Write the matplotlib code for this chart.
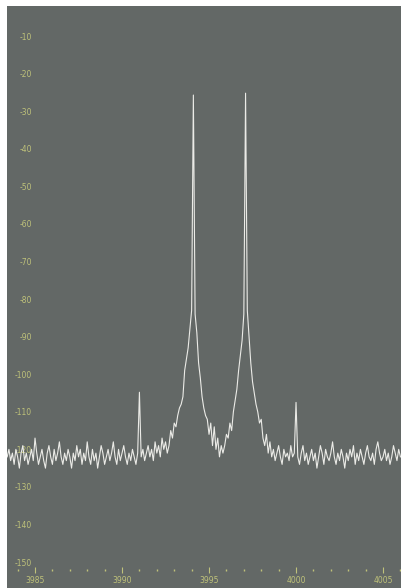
"""
Spectrum analyser trace: two tones near 3994 and 3997 with small spurs.
"""

import numpy as np
import matplotlib.pyplot as plt
from matplotlib.ticker import MultipleLocator

# trace start and step along the frequency axis
f_start = 3983.4
f_step = 0.1

# trace levels (dB), one step at a time
noise_left = [-122, -120, -123, -121, -124, -120, -122, -125, -121, -119,
              -123, -121, -124, -122, -120, -123, -117, -121, -124, -122,
              -120, -123, -125, -121, -119, -122, -124, -120, -123, -121,
              -118, -122, -124, -121, -123, -120, -122, -125, -121, -123,
              -119, -122, -120, -124, -121, -123, -118, -122, -124, -120,
              -123, -121, -125, -122, -119, -121, -124, -122, -120, -123,
              -121, -118, -122, -124, -120, -123, -121, -119, -122, -124,
              -121, -123, -120, -122, -124, -121]
spur_1 = [-104.8]
noise_mid = [-122, -120, -123, -121, -119, -122, -120, -123, -118, -121,
             -119, -122, -117, -120, -118, -121]
tone_1 = [-119, -115, -117, -113, -114, -111, -109, -108, -106, -99,
          -96, -93, -88, -83, -25.7, -84, -89, -97, -101, -106,
          -109, -111, -112, -116, -113, -119]
valley = [-114, -120, -117, -122, -119, -121]
tone_2 = [-119, -116, -117, -113, -115, -110, -107, -104, -99, -95,
          -91, -84, -25.2, -83, -90, -97, -102, -105, -108, -110,
          -113, -112, -117, -119, -116]
noise_after = [-121, -118, -122, -120, -123, -121, -119, -122, -124, -120,
               -122, -121, -123, -119, -122, -121]
spur_2 = [-107.5]
noise_right = [-122, -124, -121, -119, -123, -121, -124, -122, -120, -123,
               -121, -125, -122, -119, -121, -124, -120, -122, -123, -121,
               -118, -122, -124, -121, -123, -120, -122, -125, -121, -123,
               -120, -122, -119, -124, -121, -123, -120, -122, -124, -121,
               -119, -122, -123, -121, -124, -120, -118, -121, -123, -122,
               -120, -123, -121, -124, -122, -119, -121, -123, -120, -122]

level = np.array(noise_left + spur_1 + noise_mid + tone_1 + valley
                 + tone_2 + noise_after + spur_2 + noise_right)
freq = f_start + f_step * np.arange(len(level))

y_ticks = list(range(-10, -151, -10))
x_ticks = [3985, 3990, 3995, 4000, 4005]

screen = '#636866'
trace = '#ebebe7'
text_col = '#bfc27a'

fig = plt.figure(figsize=(4.02, 5.88), dpi=100, facecolor='white')
ax = fig.add_axes([7 / 402, 0, 395 / 402, 582 / 588])
ax.set_facecolor(screen)
for s in ax.spines.values():
    s.set_visible(False)

ax.plot(freq, level, color=trace, lw=0.8)

ax.set_xlim(3983.39, 4006.09)
ax.set_ylim(-156.9, -2.0)

# level labels sit inside the screen on the left
ax.set_yticks(y_ticks)
ax.set_yticklabels([str(v) for v in y_ticks])
ax.tick_params(axis='y', direction='in', length=0, pad=-18,
               labelsize=5.5, labelcolor=text_col)
ax.set_xticks([])

# frequency scale drawn a little above the bottom edge
sec = ax.secondary_xaxis(0.031)
sec.spines['bottom'].set_visible(False)
sec.set_xticks(x_ticks)
sec.set_xticklabels([str(v) for v in x_ticks])
sec.xaxis.set_minor_locator(MultipleLocator(1))
sec.tick_params(axis='x', which='major', direction='inout', length=4,
                width=0.8, color=text_col, pad=2, labelsize=5.5,
                labelcolor=text_col)
sec.tick_params(axis='x', which='minor', direction='inout', length=1.2,
                width=1.0, color=text_col)

fig.savefig('out.png', dpi=100, facecolor='white')
